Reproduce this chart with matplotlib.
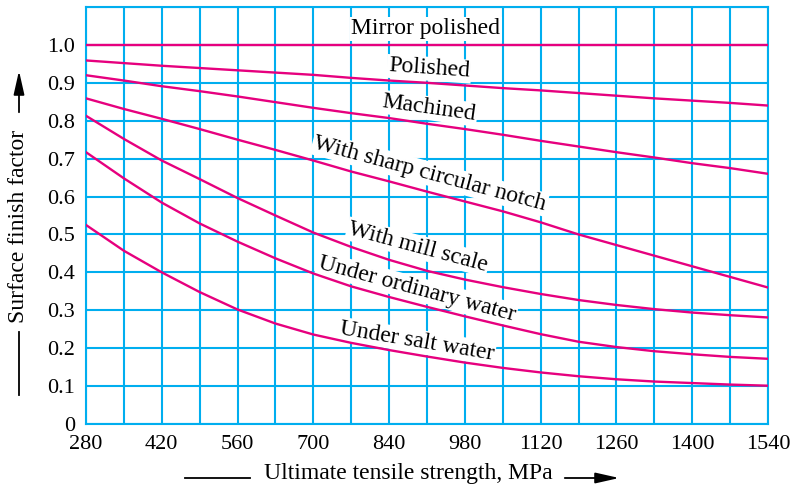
import matplotlib
matplotlib.use('Agg')
import matplotlib.pyplot as plt
import numpy as np
from matplotlib.lines import Line2D

plt.rcParams['font.family'] = ['Liberation Serif', 'DejaVu Serif']

# Every 70 MPa
uts = [280, 350, 420, 490, 560, 630, 700, 770, 840, 910,
       980, 1050, 1120, 1190, 1260, 1330, 1400, 1470, 1540]
mirror_x = [280, 1540]
mirror = [1.0, 1.0]
polished = [0.959, 0.952, 0.945, 0.939, 0.933, 0.927, 0.921, 0.913, 0.906, 0.900,
            0.893, 0.886, 0.880, 0.873, 0.866, 0.859, 0.853, 0.847, 0.840]
machined = [0.920, 0.906, 0.891, 0.878, 0.864, 0.849, 0.834, 0.820, 0.807, 0.792,
            0.778, 0.763, 0.747, 0.732, 0.717, 0.703, 0.688, 0.675, 0.660]
notch = [0.859, 0.831, 0.805, 0.778, 0.750, 0.723, 0.695, 0.666, 0.640, 0.613,
         0.587, 0.561, 0.532, 0.500, 0.472, 0.444, 0.416, 0.388, 0.360]
mill_scale = [0.813, 0.752, 0.695, 0.646, 0.596, 0.550, 0.505, 0.467, 0.433, 0.404,
              0.381, 0.361, 0.343, 0.327, 0.314, 0.303, 0.294, 0.287, 0.281]
ordinary_water = [0.717, 0.648, 0.584, 0.529, 0.481, 0.437, 0.397, 0.363, 0.335, 0.309,
                  0.284, 0.260, 0.237, 0.217, 0.203, 0.192, 0.184, 0.177, 0.172]
salt_water = [0.525, 0.457, 0.400, 0.348, 0.302, 0.265, 0.236, 0.214, 0.195, 0.178,
              0.162, 0.148, 0.136, 0.126, 0.118, 0.112, 0.108, 0.104, 0.101]

x_labels = ['280', '', '420', '', '560', '', '700', '', '840', '', '980', '',
            '1120', '', '1260', '', '1400', '', '1540']
y_labels = ['0', '0.1', '0.2', '0.3', '0.4', '0.5', '0.6', '0.7', '0.8', '0.9', '1.0', '']

grid_c = '#00AEEF'
curve_c = '#E6007E'

fig = plt.figure(figsize=(7.93, 4.90), dpi=100)
ax = fig.add_axes([86 / 793, 66 / 490, 682 / 793, 417 / 490])

ax.plot(mirror_x, mirror, color=curve_c, lw=1.7, zorder=4)
for series in [polished, machined, notch, mill_scale, ordinary_water, salt_water]:
    ax.plot(uts, series, color=curve_c, lw=1.7, zorder=4)

ax.set_xlim(280, 1540)
ax.set_ylim(0, 1.1)
ax.set_xticks(uts)
ax.set_xticklabels(x_labels)
ax.set_yticks(np.arange(12) / 10)
ax.set_yticklabels(y_labels)
ax.tick_params(length=0, labelsize=16, pad=8)
ax.grid(True, color=grid_c, lw=1.5, zorder=1)
ax.set_axisbelow(True)
for sp in ax.spines.values():
    sp.set_color(grid_c)
    sp.set_linewidth(1.5)

box = dict(facecolor='white', edgecolor='none', pad=1.0)
labels = [
    ('Mirror polished', 908, 1.043, 0),
    ('Polished', 914, 0.937, -4),
    ('Machined', 914, 0.833, -8),
    ('With sharp circular notch', 915, 0.66, -15),
    ('With mill scale', 893, 0.467, -15),
    ('Under ordinary water', 891, 0.356, -15),
    ('Under salt water', 891, 0.218, -9.5),
]
for txt, x, y, rot in labels:
    ax.text(x, y, txt, fontsize=17, rotation=rot, ha='center', va='center',
            rotation_mode='anchor', bbox=box, zorder=3)

# axis titles with the arrow decorations
head = '-|>,head_length=0.8,head_width=0.18'
fig.text(19 / 793, 1 - 226 / 490, 'Surface finish factor', rotation=90,
         fontsize=17, ha='center', va='center')
fig.add_artist(Line2D([19 / 793, 19 / 793], [1 - 332 / 490, 1 - 395 / 490],
                      color='black', lw=1.3))
ax.annotate('', xy=(19, 490 - 68), xytext=(19, 490 - 115), xycoords='figure pixels',
            arrowprops=dict(arrowstyle=head, color='black', lw=1.3, mutation_scale=18))

fig.text(408 / 793, 1 - 473 / 490, 'Ultimate tensile strength, MPa',
         fontsize=17, ha='center', va='center')
fig.add_artist(Line2D([185 / 793, 250 / 793], [1 - 478 / 490, 1 - 478 / 490],
                      color='black', lw=1.3))
ax.annotate('', xy=(622, 490 - 478), xytext=(562, 490 - 478), xycoords='figure pixels',
            arrowprops=dict(arrowstyle=head, color='black', lw=1.3, mutation_scale=18))

fig.savefig('out.png', dpi=100)
